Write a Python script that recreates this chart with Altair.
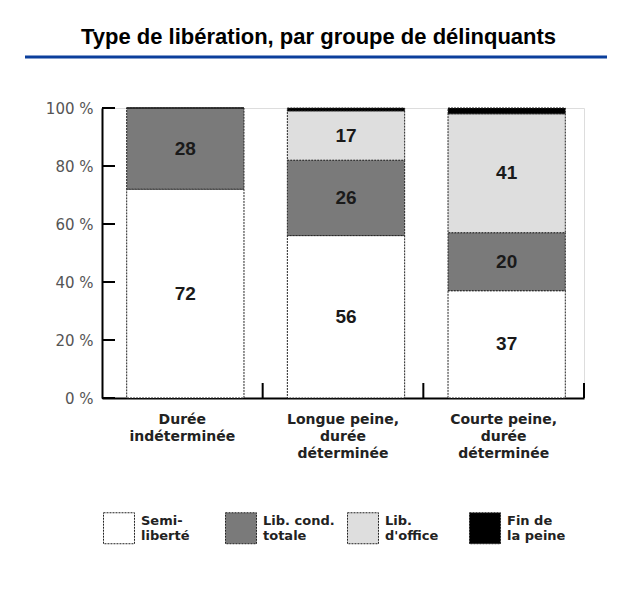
import json
import altair as alt
import pandas as pd

# ---------------- data ----------------
groups = ["Durée indéterminée", "Longue peine, durée déterminée", "Courte peine, durée déterminée"]
group_lines = [["Durée", "indéterminée"], ["Longue peine,", "durée", "déterminée"], ["Courte peine,", "durée", "déterminée"]]
types = ["Semi-liberté", "Lib. cond. totale", "Lib. d'office", "Fin de la peine"]
type_lines = [["Semi-", "liberté"], ["Lib. cond.", "totale"], ["Lib.", "d'office"], ["Fin de", "la peine"]]
colors = ["#ffffff", "#7a7a7a", "#dedede", "#000000"]

semi_liberte = [72, 56, 37]
lib_cond_totale = [28, 26, 20]
lib_office = [0, 17, 41]
fin_peine = [0, 1, 2]
y_ticks = [0, 20, 40, 60, 80, 100]

series = [semi_liberte, lib_cond_totale, lib_office, fin_peine]
rows = []
for ti, (t, vals) in enumerate(zip(types, series)):
    for g, v in zip(groups, vals):
        rows.append({"group": g, "type": t, "value": v, "order": ti})
df = pd.DataFrame(rows)


def lines_expr(keys, lines):
    expr = "datum.label"
    for k, ls in reversed(list(zip(keys, lines))):
        arr = "[" + ",".join(json.dumps(s, ensure_ascii=False) for s in ls) + "]"
        expr = f"datum.label == {json.dumps(k, ensure_ascii=False)} ? {arr} : ({expr})"
    return expr


SANS = "DejaVu Sans, sans-serif"
ARIAL = "Liberation Sans, Arial, sans-serif"

W, H = 482, 290

base = alt.Chart(df)

x_enc = alt.X(
    "group:N", sort=groups, title=None,
    scale=alt.Scale(paddingInner=0.27, paddingOuter=0.135),
    axis=alt.Axis(
        labelExpr=lines_expr(groups, group_lines), labelAngle=0, ticks=False,
        domainWidth=2, domainColor="black", labelFont=SANS, labelFontWeight="bold",
        labelFontSize=14, labelColor="#222", labelPadding=14, labelLineHeight=17,
        labelBaseline="top",
    ),
)
y_enc = alt.Y(
    "value:Q", stack="zero", title=None,
    scale=alt.Scale(domain=[0, 100], nice=False),
    axis=alt.Axis(
        values=y_ticks, labelExpr="datum.value + ' %'", ticks=False, grid=False,
        domainWidth=2, domainColor="black", labelPadding=9, labelFontSize=15,
        labelFont=SANS, labelColor="#555",
    ),
)

bars = base.mark_bar(stroke="#222", strokeWidth=1, strokeDash=[2, 1], xOffset=3).encode(
    x=x_enc,
    y=y_enc,
    color=alt.Color(
        "type:N", sort=types, scale=alt.Scale(domain=types, range=colors),
        legend=alt.Legend(
            title=None, orient="none", legendX=1, legendY=404, direction="horizontal",
            columns=4, symbolType="square", symbolSize=960, symbolStrokeColor="#222",
            symbolStrokeWidth=1, symbolDash=[2, 1], labelExpr=lines_expr(types, type_lines),
            labelFont=SANS, labelFontSize=13, labelFontWeight="bold", labelColor="#222",
            labelOffset=6, columnPadding=10, gridAlign="all", labelLimit=120,
            labelBaseline="bottom",
        ),
    ),
    order=alt.Order("order:Q"),
)

labels = base.transform_stack(
    stack="value", groupby=["group"], as_=["y0", "y1"], sort=[alt.SortField("order")]
).transform_calculate(
    mid="(datum.y0 + datum.y1) / 2"
).transform_filter("datum.value >= 5").mark_text(
    font=ARIAL, fontSize=19, fontWeight="bold", color="#1a1a1a", dx=3
).encode(
    x=alt.X("group:N", sort=groups),
    y=alt.Y("mid:Q"),
    text="value:Q",
)

ytick_rules = alt.Chart(pd.DataFrame({"v": y_ticks})).mark_rule(
    color="black", strokeWidth=2
).encode(y="v:Q", x=alt.value(0), x2=alt.value(13))

xtick_rules = alt.Chart(pd.DataFrame({"group": groups})).mark_rule(
    color="black", strokeWidth=2
).encode(
    x=alt.X("group:N", sort=groups, bandPosition=1,
            scale=alt.Scale(type="band", paddingInner=0, paddingOuter=0), axis=None),
    y=alt.value(H - 15), y2=alt.value(H),
)

underline = alt.Chart(alt.Data(values=[{"a": 1}])).mark_rule(
    color="#0b3f9c", strokeWidth=3
).encode(x=alt.value(-77), x2=alt.value(505), y=alt.value(-51))

inner = alt.layer(bars, labels, ytick_rules, underline)

chart = alt.layer(inner, xtick_rules).resolve_scale(x="independent").properties(
    width=W, height=H,
    autosize=alt.AutoSizeParams(type="none"),
    padding={"left": 94, "top": 100, "right": 32, "bottom": 170},
    title=alt.TitleParams(
        "Type de libération, par groupe de délinquants",
        font=ARIAL, fontSize=22, fontWeight="bold", color="black",
        anchor="start", frame="group", dx=-21, offset=7,
    ),
).configure_view(stroke=None).configure(background="white")

chart.save("out.html", embed_options={"renderer": "svg", "actions": False})
